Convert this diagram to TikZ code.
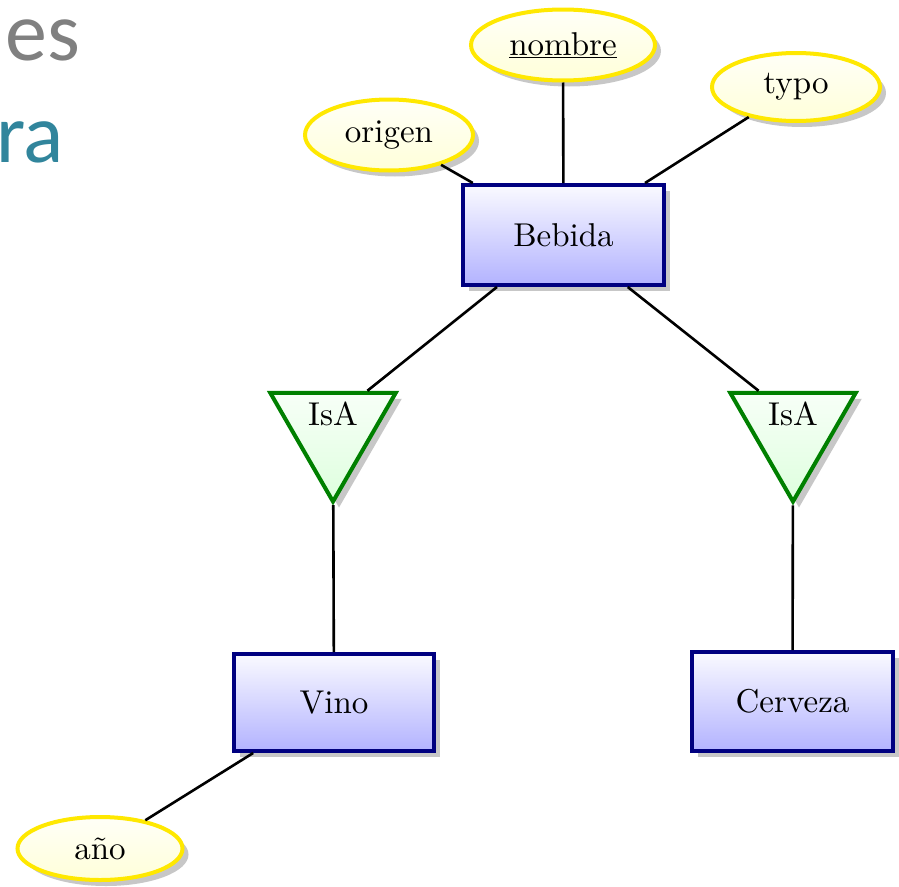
\documentclass[tikz,border=0pt]{standalone}
\usepackage{fontspec}
\setmainfont{lmroman10-regular.otf}[BoldFont=lmroman10-bold.otf,ItalicFont=lmroman10-italic.otf]
\newfontfamily\slidefont{Carlito}
\usetikzlibrary{shapes.geometric,shadows}
\definecolor{slidegray}{RGB}{128,128,128}
\definecolor{slideteal}{RGB}{49,133,156}
\definecolor{attrborder}{RGB}{255,232,0}
\definecolor{entborder}{RGB}{0,0,128}
\definecolor{isaborder}{RGB}{0,128,0}
\tikzset{
  bigfont/.style={font=\fontsize{33}{40}\selectfont},
  myshadow/.style={drop shadow={shadow xshift=6pt,shadow yshift=-6pt,fill=black!22,opacity=1}},
  entity/.style={bigfont,rectangle,draw=entborder,line width=4pt,top color=blue!2,bottom color=blue!30,
    minimum width=201pt,minimum height=99pt,inner sep=0pt,myshadow},
  attr/.style={bigfont,ellipse,draw=attrborder,line width=4pt,top color=yellow!3,bottom color=yellow!15,
    inner sep=0pt,myshadow},
  isabox/.style={regular polygon,regular polygon sides=3,shape border rotate=180,draw=isaborder,line width=4pt,
    top color=green!3,bottom color=green!13,minimum size=145pt,inner sep=0pt,myshadow},
  conn/.style={line width=2.6pt,black},
  slidetext/.style={font=\slidefont\fontsize{84}{100}\selectfont,inner sep=0pt,anchor=base west}
}
\begin{document}
\begin{tikzpicture}[x=1pt,y=-1pt]
\useasboundingbox (0,0) rectangle (899,886);
% slide text fragments
\node[slidetext,text=slidegray] (slideA) at (5,60) {es};
\node[slidetext,text=slideteal] (slideB) at (-4,162) {ra};
% entities
\node[entity,minimum height=100pt] (bebida) at (563.5,235) {Bebida};
\node[entity,minimum width=200pt,minimum height=97pt] (vino) at (334,702.5) {Vino};
\node[entity] (cerveza) at (792.5,701.5) {Cerveza};
% attributes
\node[attr,minimum width=184pt,minimum height=71pt] (nombre) at (563,45) {\underline{nombre}};
\node[attr,minimum width=168pt,minimum height=71pt] (origen) at (389,135) {origen};
\node[attr,minimum width=168pt,minimum height=68pt] (typo) at (796,87) {typo};
\node[attr,minimum width=165pt,minimum height=63pt] (anio) at (100,848.5) {año};
% isa triangles
\node[isabox] (isa1) at (333,429) {};
\node[isabox] (isa2) at (793,429) {};
\node[bigfont,inner sep=0pt] (isa1label) at (333,414) {IsA};
\node[bigfont,inner sep=0pt] (isa2label) at (793,414) {IsA};
% connectors
\draw[conn] (origen) -- (bebida);
\draw[conn] (nombre) -- (bebida);
\draw[conn] (typo) -- (bebida);
\draw[conn] (bebida.218.4) -- (isa1.48.4);
\draw[conn] (bebida.321.3) -- (isa2.132.5);
\draw[conn] (isa1) -- (vino);
\draw[conn] (isa2) -- (cerveza);
\draw[conn] (vino) -- (anio);
\end{tikzpicture}
\end{document}
